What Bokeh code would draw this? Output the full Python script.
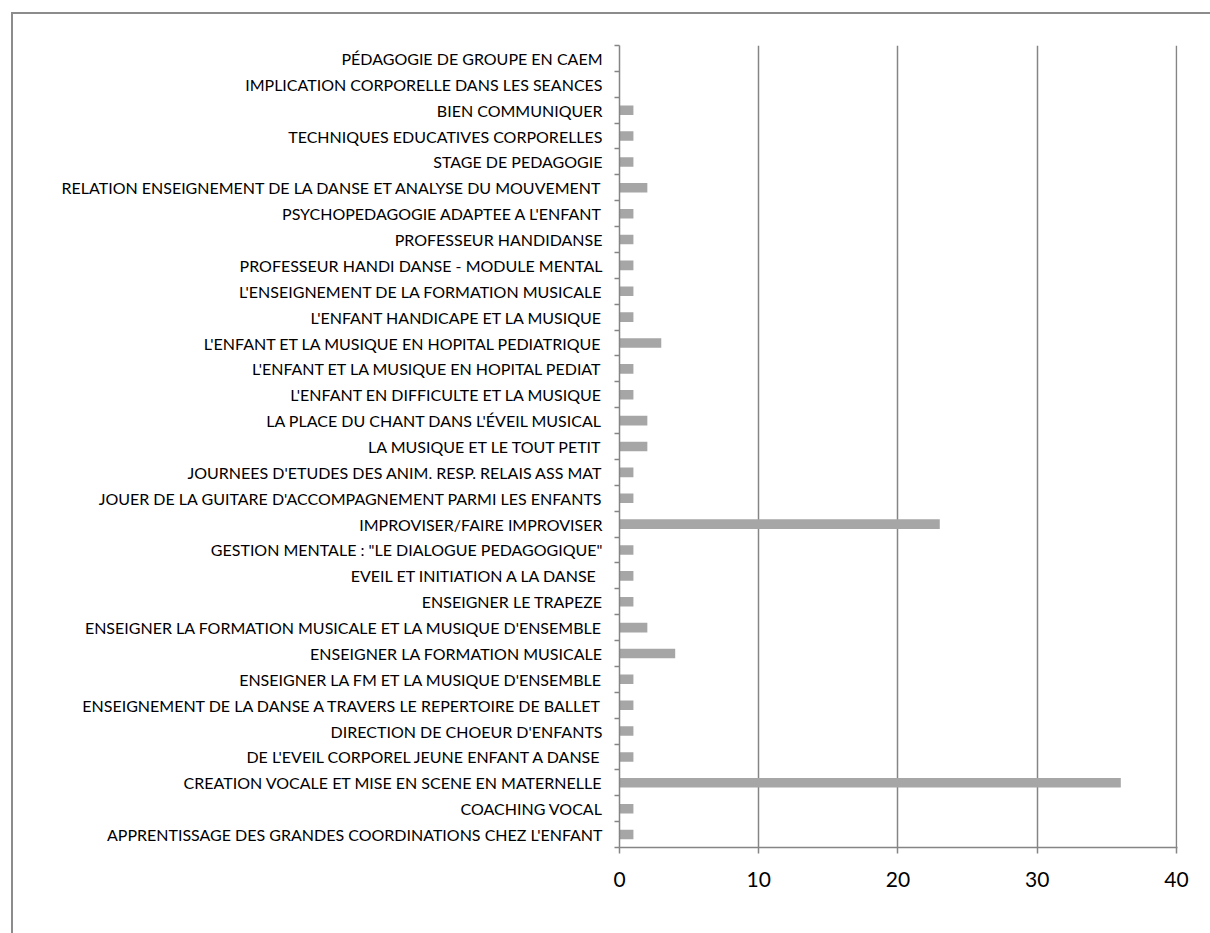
from bokeh.plotting import figure
from bokeh.models import Range1d, FixedTicker, InlineStyleSheet
from bokeh.embed import file_html
from bokeh.resources import INLINE

# categories listed top to bottom as displayed
categories = [
    "PÉDAGOGIE DE GROUPE EN CAEM",
    "IMPLICATION CORPORELLE DANS LES SEANCES",
    "BIEN COMMUNIQUER",
    "TECHNIQUES EDUCATIVES CORPORELLES",
    "STAGE DE PEDAGOGIE",
    "RELATION ENSEIGNEMENT DE LA DANSE ET ANALYSE DU MOUVEMENT",
    "PSYCHOPEDAGOGIE ADAPTEE A L'ENFANT",
    "PROFESSEUR HANDIDANSE",
    "PROFESSEUR HANDI DANSE - MODULE MENTAL",
    "L'ENSEIGNEMENT DE LA FORMATION MUSICALE",
    "L'ENFANT HANDICAPE ET LA MUSIQUE",
    "L'ENFANT ET LA MUSIQUE EN HOPITAL PEDIATRIQUE",
    "L'ENFANT ET LA MUSIQUE EN HOPITAL PEDIAT",
    "L'ENFANT EN DIFFICULTE ET LA MUSIQUE",
    "LA PLACE DU CHANT DANS L'ÉVEIL MUSICAL",
    "LA MUSIQUE ET LE TOUT PETIT",
    "JOURNEES D'ETUDES DES ANIM. RESP. RELAIS ASS MAT",
    "JOUER DE LA GUITARE D'ACCOMPAGNEMENT PARMI LES ENFANTS",
    "IMPROVISER/FAIRE IMPROVISER",
    "GESTION MENTALE : \"LE DIALOGUE PEDAGOGIQUE\"",
    "EVEIL ET INITIATION A LA DANSE ",
    "ENSEIGNER LE TRAPEZE",
    "ENSEIGNER LA FORMATION MUSICALE ET LA MUSIQUE D'ENSEMBLE",
    "ENSEIGNER LA FORMATION MUSICALE",
    "ENSEIGNER LA FM ET LA MUSIQUE D'ENSEMBLE",
    "ENSEIGNEMENT DE LA DANSE A TRAVERS LE REPERTOIRE DE BALLET",
    "DIRECTION DE CHOEUR D'ENFANTS",
    "DE L'EVEIL CORPOREL JEUNE ENFANT A DANSE",
    "CREATION VOCALE ET MISE EN SCENE EN MATERNELLE",
    "COACHING VOCAL",
    "APPRENTISSAGE DES GRANDES COORDINATIONS CHEZ L'ENFANT",
]
values = [0, 0, 1, 1, 1, 2, 1, 1, 1, 1, 1, 3, 1, 1, 2, 2, 1, 1, 23, 1, 1, 1, 2, 4, 1, 1, 1, 1, 36, 1, 1]
x_ticks = [0, 10, 20, 30, 40]

n = len(categories)
ypos = [n - i for i in range(n)]

GRAY = "#858585"
FONT = "Lato"

frame_css = InlineStyleSheet(css="""
:host { position: relative; }
:host::after {
  content: "";
  position: absolute;
  left: 11px; top: 12px; right: 0; bottom: 0;
  border-left: 2px solid #8c8c8c;
  border-top: 2px solid #8c8c8c;
  pointer-events: none;
}
""")

p = figure(width=1210, height=933, output_backend="svg", toolbar_location=None,
           x_range=Range1d(0, 40.072), y_range=Range1d(0.5, n + 0.5),
           min_border_left=619, min_border_right=33, min_border_top=45,
           min_border_bottom=86, stylesheets=[frame_css])
p.outline_line_color = None
p.background_fill_color = "white"
p.border_fill_color = "white"

p.hbar(y=ypos, right=values, left=0, height=0.37, fill_color="#a6a6a6", line_color=None)

# x axis
p.xaxis.ticker = FixedTicker(ticks=x_ticks)
p.xaxis.axis_line_color = GRAY
p.xaxis.axis_line_width = 1.5
p.xaxis.major_tick_line_color = GRAY
p.xaxis.major_tick_line_width = 1.5
p.xaxis.major_tick_out = 6
p.xaxis.major_tick_in = 0
p.xaxis.minor_tick_line_color = None
p.xaxis.major_label_text_font = FONT
p.xaxis.major_label_text_font_size = "21px"
p.xaxis.major_label_text_color = "black"
p.xaxis.major_label_standoff = 18

# y axis
p.yaxis.ticker = FixedTicker(ticks=ypos, minor_ticks=[k + 0.5 for k in range(n + 1)])
p.yaxis.major_label_overrides = {y: c for y, c in zip(ypos, categories)}
p.yaxis.axis_line_color = GRAY
p.yaxis.axis_line_width = 1.5
p.yaxis.major_tick_line_color = None
p.yaxis.major_tick_out = 0
p.yaxis.major_tick_in = 0
p.yaxis.minor_tick_line_color = GRAY
p.yaxis.minor_tick_line_width = 1.5
p.yaxis.minor_tick_out = 5
p.yaxis.minor_tick_in = 0
p.yaxis.major_label_text_font = FONT
p.yaxis.major_label_text_font_size = "16px"
p.yaxis.major_label_text_color = "black"
p.yaxis.major_label_standoff = 12

p.xgrid.ticker = FixedTicker(ticks=x_ticks)
p.xgrid.grid_line_color = GRAY
p.xgrid.grid_line_width = 1.5
p.ygrid.grid_line_color = None

open("out.html", "w").write(file_html(p, INLINE))
